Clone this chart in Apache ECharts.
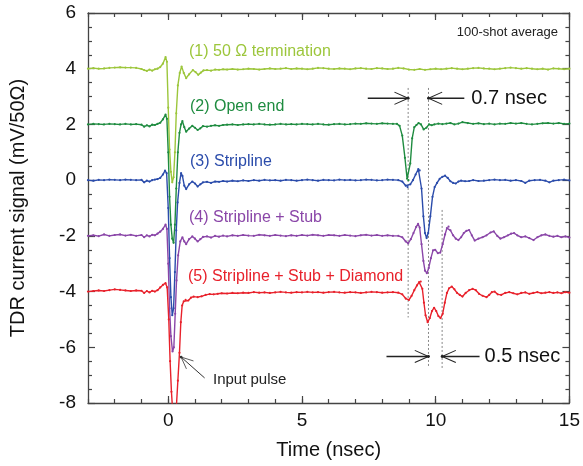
<!DOCTYPE html>
<html><head><meta charset="utf-8">
<script src="https://cdn.jsdelivr.net/npm/echarts@6/dist/echarts.min.js"></script>
<style>html,body{margin:0;padding:0;background:#fff}#c{width:583px;height:466px}</style>
</head><body><div id="c"></div>
<script>
// ---- tick labels / axes ----
const xTickLabels = [0, 5, 10, 15];
const xRange = [-3, 15];
const yRange = [-8, 6];
const yTickStep = 2;

// ---- series ----
const seriesNames = ['(1) 50 \u03A9 termination', '(2) Open end', '(3) Stripline', '(4) Stripline + Stub', '(5) Stripline + Stub + Diamond'];
const seriesColors = ['#9cc63b', '#1f8c40', '#2b4cab', '#8a46a8', '#e8212b'];

const s1 = [[-3,4.00],[-2.8,4.02],[-2.6,4.00],[-2.4,4.01],[-2.2,4.03],[-2.0,4.04],[-1.8,4.05],[-1.6,4.04],[-1.4,4.04],[-1.2,4.03],[-1.0,3.99],[-0.9,3.95],[-0.8,3.92],[-0.7,3.97],[-0.6,3.93],[-0.5,3.98],[-0.4,4.0],[-0.3,4.06],[-0.2,4.18],[-0.1,4.42],[-0.05,4.25],[0.0,2.6],[0.05,1.1],[0.1,0.3],[0.15,-0.08],[0.2,0.1],[0.25,1.0],[0.3,2.4],[0.36,3.4],[0.43,3.85],[0.5,4.08],[0.58,3.85],[0.67,3.66],[0.78,3.8],[0.92,3.95],[1.02,3.88],[1.12,3.78],[1.22,3.86],[1.32,3.94],[1.45,3.95],[1.6,3.93],[1.75,3.97],[1.9,3.96],[2.05,3.98],[2.2,3.97],[2.4,3.99],[2.6,3.97],[2.8,3.98],[3.0,4.0],[3.2,3.99],[3.4,3.97],[3.6,3.99],[3.8,4.01],[4.0,3.99],[4.2,4.0],[4.4,4.02],[4.6,3.99],[4.8,4.01],[5.0,4.0],[5.2,3.98],[5.4,4.0],[5.6,4.03],[5.8,4.02],[6.0,4.0],[6.2,3.99],[6.4,4.01],[6.6,4.0],[6.8,3.98],[7.0,4.01],[7.2,4.02],[7.4,4.0],[7.6,3.99],[7.8,4.02],[8.0,4.01],[8.2,3.99],[8.4,4.0],[8.6,4.03],[8.8,4.01],[9.0,3.97],[9.2,3.96],[9.4,3.99],[9.6,3.96],[9.8,3.98],[10.0,4.0],[10.2,3.98],[10.4,4.0],[10.6,4.02],[10.8,4.0],[11.0,3.98],[11.2,4.0],[11.4,4.02],[11.6,4.03],[11.8,4.01],[12.0,4.0],[12.2,3.98],[12.4,4.0],[12.6,4.02],[12.8,4.04],[13.0,4.02],[13.2,4.0],[13.4,4.02],[13.6,4.0],[13.8,3.98],[14.0,4.0],[14.2,3.97],[14.4,4.01],[14.6,4.0],[14.8,3.98],[15.0,4.0]];

const s2 = [[-3,2.0],[-2.8,2.02],[-2.6,2.01],[-2.4,2.0],[-2.2,2.02],[-2.0,2.01],[-1.8,2.0],[-1.6,2.02],[-1.4,2.0],[-1.2,2.01],[-1.0,1.99],[-0.9,1.92],[-0.8,1.97],[-0.7,1.93],[-0.6,1.99],[-0.5,1.98],[-0.4,2.02],[-0.3,2.06],[-0.2,2.18],[-0.1,2.35],[-0.05,2.2],[0.0,1.0],[0.05,-0.6],[0.1,-1.6],[0.15,-2.1],[0.2,-2.25],[0.25,-1.6],[0.3,-0.3],[0.36,1.0],[0.42,1.7],[0.48,2.0],[0.53,2.12],[0.6,1.9],[0.67,1.74],[0.78,1.85],[0.9,1.95],[1.0,1.88],[1.1,1.8],[1.2,1.86],[1.3,1.94],[1.45,1.92],[1.6,1.95],[1.75,1.97],[1.9,1.95],[2.05,1.98],[2.2,1.99],[2.4,2.0],[2.6,1.98],[2.8,2.0],[3.0,2.01],[3.2,2.0],[3.4,2.02],[3.6,2.0],[3.8,1.99],[4.0,2.0],[4.2,2.02],[4.4,2.0],[4.6,2.01],[4.8,2.0],[5.0,2.02],[5.2,2.01],[5.4,2.0],[5.6,2.02],[5.8,2.0],[6.0,1.99],[6.2,2.01],[6.4,2.02],[6.6,2.0],[6.8,2.01],[7.0,2.03],[7.2,2.02],[7.4,2.04],[7.6,2.03],[7.8,2.02],[8.0,2.04],[8.2,2.03],[8.4,2.02],[8.55,2.02],[8.65,1.95],[8.75,1.6],[8.85,0.8],[8.93,0.05],[8.98,0.0],[9.05,0.6],[9.12,1.5],[9.2,1.9],[9.28,1.98],[9.36,2.05],[9.45,2.0],[9.55,1.82],[9.65,1.88],[9.75,2.0],[9.85,1.97],[9.95,2.0],[10.1,2.03],[10.25,2.01],[10.4,2.03],[10.55,2.05],[10.7,2.0],[10.85,2.03],[11.0,2.08],[11.2,2.05],[11.4,2.02],[11.6,2.04],[11.8,2.01],[12.0,2.03],[12.2,2.0],[12.4,2.03],[12.6,2.02],[12.8,2.05],[13.0,2.03],[13.2,2.05],[13.4,2.02],[13.6,2.0],[13.8,2.02],[14.0,2.04],[14.2,2.05],[14.4,2.03],[14.6,2.05],[14.8,2.02],[15.0,2.03]];

const s3 = [[-3,0.0],[-2.8,-0.02],[-2.6,0.01],[-2.4,0.0],[-2.2,0.02],[-2.0,0.01],[-1.8,0.0],[-1.6,0.02],[-1.4,0.01],[-1.2,0.0],[-1.0,0.01],[-0.9,-0.08],[-0.8,-0.02],[-0.7,-0.05],[-0.6,0.0],[-0.5,0.02],[-0.4,0.04],[-0.3,0.08],[-0.2,0.2],[-0.12,0.34],[-0.06,0.25],[0.0,-1.0],[0.05,-2.8],[0.1,-4.2],[0.15,-4.85],[0.2,-4.6],[0.25,-3.3],[0.3,-1.8],[0.35,-0.8],[0.42,-0.1],[0.48,0.25],[0.53,0.15],[0.6,-0.2],[0.67,-0.32],[0.78,-0.15],[0.9,-0.05],[1.0,-0.12],[1.1,-0.23],[1.2,-0.15],[1.3,-0.08],[1.45,-0.06],[1.6,-0.1],[1.75,-0.05],[1.9,-0.06],[2.05,-0.03],[2.2,-0.05],[2.4,-0.02],[2.6,-0.04],[2.8,-0.01],[3.0,-0.03],[3.2,0.0],[3.4,-0.02],[3.6,0.01],[3.8,-0.01],[4.0,0.0],[4.2,-0.02],[4.4,0.01],[4.6,0.0],[4.8,-0.02],[5.0,0.0],[5.2,0.02],[5.4,0.0],[5.6,-0.02],[5.8,0.01],[6.0,0.0],[6.2,-0.01],[6.4,0.02],[6.6,0.0],[6.8,0.01],[7.0,-0.01],[7.2,0.0],[7.4,0.02],[7.6,0.01],[7.8,-0.01],[8.0,0.0],[8.2,0.02],[8.4,0.01],[8.6,0.0],[8.75,-0.05],[8.88,-0.2],[8.95,-0.25],[9.05,-0.15],[9.15,0.0],[9.25,0.2],[9.35,0.4],[9.4,0.35],[9.47,-0.3],[9.54,-1.3],[9.6,-1.9],[9.66,-2.08],[9.72,-1.9],[9.8,-1.3],[9.88,-0.6],[9.96,-0.25],[10.05,-0.1],[10.15,0.05],[10.25,0.12],[10.35,0.16],[10.45,0.08],[10.55,-0.04],[10.65,-0.1],[10.75,-0.12],[10.85,-0.05],[10.95,-0.02],[11.1,-0.04],[11.25,-0.03],[11.4,0.0],[11.6,-0.03],[11.8,-0.02],[12.0,0.0],[12.2,0.02],[12.4,0.0],[12.6,0.01],[12.8,-0.02],[13.0,0.0],[13.2,-0.03],[13.35,-0.1],[13.5,-0.02],[13.7,0.0],[13.9,0.01],[14.1,-0.02],[14.25,-0.08],[14.4,-0.02],[14.6,0.0],[14.8,0.02],[15.0,-0.01]];

const s4 = [[-3,-2.0],[-2.8,-1.98],[-2.6,-2.01],[-2.4,-1.95],[-2.2,-2.0],[-2.0,-1.97],[-1.8,-1.95],[-1.6,-1.99],[-1.4,-1.96],[-1.2,-2.0],[-1.0,-1.97],[-0.9,-2.05],[-0.8,-1.98],[-0.7,-2.02],[-0.6,-1.96],[-0.5,-1.98],[-0.4,-1.92],[-0.3,-1.85],[-0.2,-1.75],[-0.1,-1.6],[-0.05,-1.75],[0.0,-3.0],[0.05,-4.6],[0.1,-5.6],[0.16,-6.15],[0.21,-6.0],[0.26,-4.8],[0.31,-3.6],[0.37,-2.7],[0.45,-2.2],[0.53,-2.05],[0.6,-2.2],[0.67,-2.3],[0.78,-2.12],[0.9,-2.02],[1.0,-2.1],[1.1,-2.2],[1.2,-2.12],[1.3,-2.04],[1.45,-2.02],[1.6,-2.06],[1.75,-2.0],[1.9,-2.03],[2.05,-1.99],[2.2,-2.02],[2.4,-1.98],[2.6,-2.0],[2.8,-1.97],[3.0,-1.99],[3.2,-2.0],[3.4,-1.96],[3.6,-1.98],[3.8,-2.0],[4.0,-1.97],[4.2,-1.99],[4.4,-2.01],[4.6,-1.98],[4.8,-2.0],[5.0,-1.97],[5.2,-1.99],[5.4,-1.96],[5.6,-1.98],[5.8,-2.0],[6.0,-1.97],[6.2,-1.98],[6.4,-2.0],[6.6,-1.97],[6.8,-1.99],[7.0,-2.01],[7.2,-1.98],[7.4,-1.96],[7.6,-1.99],[7.8,-1.97],[8.0,-2.0],[8.2,-1.98],[8.4,-2.0],[8.6,-2.0],[8.75,-2.05],[8.88,-2.2],[8.97,-2.27],[9.07,-2.12],[9.17,-1.9],[9.27,-1.68],[9.34,-1.57],[9.4,-1.7],[9.47,-2.3],[9.54,-2.9],[9.6,-3.25],[9.67,-3.34],[9.74,-3.15],[9.82,-2.8],[9.9,-2.52],[9.98,-2.5],[10.08,-2.62],[10.17,-2.6],[10.26,-2.3],[10.35,-1.95],[10.42,-1.72],[10.48,-1.67],[10.55,-1.8],[10.65,-1.98],[10.75,-2.1],[10.85,-2.15],[10.95,-2.05],[11.05,-1.9],[11.15,-1.82],[11.25,-1.79],[11.35,-1.98],[11.46,-2.17],[11.6,-2.1],[11.75,-2.05],[11.9,-1.98],[12.05,-1.88],[12.17,-1.84],[12.3,-2.0],[12.42,-2.1],[12.55,-2.05],[12.7,-1.98],[12.82,-1.92],[12.93,-1.9],[13.05,-1.98],[13.2,-2.05],[13.35,-2.02],[13.5,-2.08],[13.66,-2.15],[13.8,-2.05],[13.95,-1.98],[14.1,-1.95],[14.25,-2.0],[14.4,-2.03],[14.55,-2.0],[14.7,-2.05],[14.85,-2.02],[15.0,-2.06]];

const s5 = [[-3,-4.0],[-2.8,-3.98],[-2.6,-3.96],[-2.4,-3.98],[-2.2,-3.95],[-2.0,-3.92],[-1.8,-3.94],[-1.6,-3.96],[-1.4,-3.98],[-1.2,-3.96],[-1.0,-3.97],[-0.9,-4.05],[-0.8,-3.98],[-0.7,-4.03],[-0.6,-3.97],[-0.5,-4.0],[-0.4,-3.95],[-0.3,-3.85],[-0.2,-3.76],[-0.1,-3.7],[-0.04,-3.85],[0.02,-5.0],[0.07,-6.5],[0.12,-7.6],[0.18,-8.5],[0.24,-8.7],[0.3,-8.2],[0.36,-7.2],[0.42,-6.2],[0.47,-5.1],[0.52,-4.5],[0.58,-4.35],[0.65,-4.3],[0.75,-4.32],[0.85,-4.22],[0.95,-4.18],[1.1,-4.2],[1.25,-4.17],[1.4,-4.12],[1.55,-4.09],[1.7,-4.1],[1.85,-4.08],[2.0,-4.06],[2.2,-4.07],[2.4,-4.05],[2.6,-4.06],[2.8,-4.04],[3.0,-4.05],[3.2,-4.02],[3.4,-4.04],[3.6,-4.03],[3.8,-4.05],[4.0,-4.03],[4.2,-4.01],[4.4,-4.03],[4.6,-4.04],[4.8,-4.02],[5.0,-4.03],[5.2,-4.01],[5.4,-4.03],[5.6,-4.02],[5.8,-4.04],[6.0,-4.02],[6.2,-4.01],[6.4,-4.03],[6.6,-4.04],[6.8,-4.02],[7.0,-4.03],[7.2,-4.05],[7.4,-4.03],[7.6,-4.01],[7.8,-4.02],[8.0,-4.04],[8.2,-4.03],[8.4,-4.02],[8.6,-4.04],[8.75,-4.1],[8.88,-4.25],[9.0,-4.3],[9.1,-4.15],[9.2,-3.95],[9.3,-3.78],[9.38,-3.66],[9.44,-3.64],[9.5,-3.9],[9.56,-4.4],[9.62,-4.85],[9.7,-5.1],[9.78,-4.95],[9.86,-4.7],[9.94,-4.58],[10.02,-4.7],[10.1,-4.88],[10.18,-4.95],[10.26,-4.8],[10.34,-4.4],[10.42,-4.05],[10.5,-3.88],[10.6,-3.82],[10.7,-3.92],[10.8,-4.05],[10.9,-4.12],[11.0,-4.18],[11.12,-4.05],[11.25,-3.95],[11.38,-3.9],[11.5,-3.95],[11.62,-4.08],[11.75,-4.15],[11.9,-4.2],[12.0,-4.12],[12.1,-4.02],[12.2,-4.0],[12.32,-4.1],[12.45,-4.12],[12.6,-4.05],[12.75,-4.02],[12.9,-4.06],[13.05,-4.1],[13.2,-4.05],[13.35,-4.03],[13.5,-4.08],[13.65,-4.05],[13.8,-4.02],[13.95,-4.06],[14.1,-4.04],[14.25,-4.02],[14.4,-4.05],[14.55,-4.03],[14.7,-4.06],[14.85,-4.02],[15.0,-4.04]];

// ---- annotations (data units) ----
const markerTimes = [8.97, 9.73, 10.24];
const markerSpans = [[3.31, -4.93], [3.31, -6.74], [-1.07, -6.81]];
const gapLabels = ['0.7 nsec', '0.5 nsec'];

const FONT = '"Liberation Sans", Arial, Helvetica, sans-serif';
const axisColor = '#444';
const chart = echarts.init(document.getElementById('c'), null, {renderer: 'canvas'});

function xAx(pos, major, showLabel, name) {
  const a = {
    type: 'value', min: xRange[0], max: xRange[1], position: pos,
    axisLine: {show: major, onZero: false, lineStyle: {color: axisColor, width: 1.3}},
    splitLine: {show: false},
    axisLabel: {show: showLabel, color: '#111', fontSize: 19, fontFamily: FONT, margin: 8},
    axisTick: {show: true, inside: true, length: major ? 7 : 4, lineStyle: {color: axisColor, width: 1.2}}
  };
  if (major) {
    a.axisTick.customValues = xTickLabels;
    a.axisLabel.customValues = xTickLabels;
  } else {
    a.interval = 1;
  }
  if (name) {
    a.name = name; a.nameLocation = 'middle'; a.nameGap = 37;
    a.nameTextStyle = {color: '#111', fontSize: 20, fontFamily: FONT};
  }
  return a;
}
function yAx(pos, showLabel, name) {
  const a = {
    type: 'value', min: yRange[0], max: yRange[1], interval: yTickStep, position: pos,
    axisLine: {show: true, onZero: false, lineStyle: {color: axisColor, width: 1.3}},
    splitLine: {show: false},
    axisLabel: {show: showLabel, color: '#111', fontSize: 19, fontFamily: FONT, margin: 12},
    axisTick: {show: true, inside: true, length: 7, lineStyle: {color: axisColor, width: 1.2}},
    minorTick: {show: true, splitNumber: 4, length: 4, lineStyle: {color: axisColor, width: 1.2}}
  };
  if (name) {
    a.name = name; a.nameLocation = 'middle'; a.nameGap = 50;
    a.nameTextStyle = {color: '#111', fontSize: 20, fontFamily: FONT, padding: [0, 0, 10, 0]};
  }
  return a;
}

const allSeries = [s1, s2, s3, s4, s5];
chart.setOption({
  animation: false,
  backgroundColor: '#fff',
  grid: {left: 83, right: 10, top: 13, bottom: 63, containLabel: false},
  xAxis: [xAx('bottom', true, true, 'Time (nsec)'), xAx('bottom', false, false), xAx('top', true, false), xAx('top', false, false)],
  yAxis: [yAx('left', true, 'TDR current signal (mV/50\u03A9)'), yAx('right', false)],
  series: allSeries.map((d, i) => ({
    name: seriesNames[i], type: 'line', data: d, xAxisIndex: 0, yAxisIndex: 0,
    color: seriesColors[i], showSymbol: true, symbol: 'circle', symbolSize: 2.2,
    lineStyle: {width: 1.4, color: seriesColors[i]}, itemStyle: {color: seriesColors[i]},
    clip: true, z: 3 + i
  }))
});

// ---- annotation graphics ----
const P = (x, y) => chart.convertToPixel({xAxisIndex: 0, yAxisIndex: 0}, [x, y]);
const g = [];
markerTimes.forEach((t, i) => {
  const a = P(t, markerSpans[i][0]), b = P(t, markerSpans[i][1]);
  g.push({type: 'line', shape: {x1: a[0], y1: a[1], x2: b[0], y2: b[1]}, style: {stroke: '#888', lineWidth: 1, lineDash: [2, 2]}, z: 1});
});
function arrow(tail, tip, color, w, headLen) {
  const dx = tip[0] - tail[0], dy = tip[1] - tail[1];
  const ang = Math.atan2(dy, dx), spread = 0.42;
  const h1 = [tip[0] - headLen * Math.cos(ang - spread), tip[1] - headLen * Math.sin(ang - spread)];
  const h2 = [tip[0] - headLen * Math.cos(ang + spread), tip[1] - headLen * Math.sin(ang + spread)];
  g.push({type: 'line', shape: {x1: tail[0], y1: tail[1], x2: tip[0], y2: tip[1]}, style: {stroke: color, lineWidth: w}, z: 10});
  g.push({type: 'polyline', shape: {points: [h1, tip, h2]}, style: {stroke: color, lineWidth: w * 0.8, fill: null}, z: 10});
  g.push({type: 'circle', shape: {cx: tip[0], cy: tip[1], r: 1.4}, style: {fill: color}, z: 10});
}
// 0.7 nsec
const yA = 2.94, yB = -6.33;
arrow(P(7.46, yA), P(markerTimes[0], yA), '#222', 1.3, 15);
arrow(P(11.07, yA), P(markerTimes[1], yA), '#222', 1.3, 15);
arrow(P(8.16, yB), P(markerTimes[1], yB), '#222', 1.3, 15);
arrow(P(11.64, yB), P(markerTimes[2], yB), '#222', 1.3, 15);
// input pulse arrow
arrow(P(1.36, -7.1), P(0.48, -6.35), '#333', 1, 13);

function txt(x, y, s, color, size, align) {
  g.push({type: 'text', x: x, y: y, z: 12, style: {text: s, fill: color, fontSize: size, fontFamily: FONT, verticalAlign: 'middle', align: align || 'left'}});
}
const pA = P(11.07, yA), pB = P(11.64, yB);
txt(pA[0] + 7, pA[1], gapLabels[0], '#111', 20);
txt(pB[0] + 5, pB[1], gapLabels[1], '#111', 20);
txt(213, 380, 'Input pulse', '#222', 15);
txt(558, 32, '100-shot average', '#222', 13, 'right');
const labelPix = [[189, 52], [190, 107], [190, 162], [189, 218], [188, 277]];
seriesNames.forEach((n, i) => txt(labelPix[i][0], labelPix[i][1], n, seriesColors[i], 16));
chart.setOption({graphic: g});
</script>
</body></html>
